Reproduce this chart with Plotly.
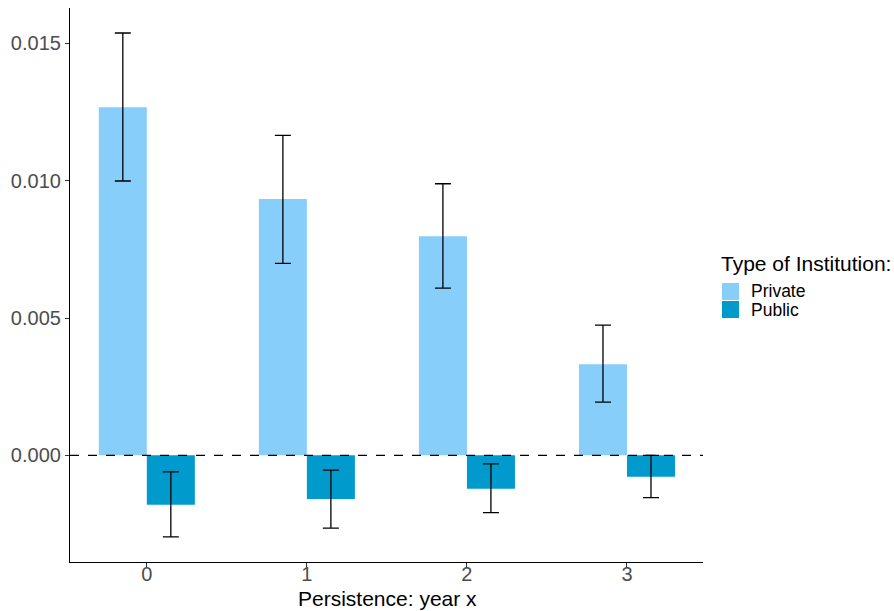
import plotly.graph_objects as go

years = [0, 1, 2, 3]
private_est = [0.01268, 0.00933, 0.00798, 0.00332]
private_lo = [0.00999, 0.00699, 0.00609, 0.00194]
private_hi = [0.01538, 0.01165, 0.00989, 0.00474]
public_est = [-0.00180, -0.00159, -0.00122, -0.00078]
public_lo = [-0.00297, -0.00265, -0.00209, -0.00154]
public_hi = [-0.00060, -0.00054, -0.00031, 0.00000]
series_names = ["Private", "Public"]
series_colors = ["#87CEFA", "#009ACD"]

FONT = "Liberation Sans, Arial, sans-serif"

FIG_W, FIG_H = 894, 611
L, R, T, B = 70, 703, 8, 562
W, H = R - L, B - T

def px_x(p):
    return (p - L) / W

def px_y(p):
    return (B - p) / H

def err(est, lo, hi):
    return dict(type="data", symmetric=False,
                array=[h - e for e, h in zip(est, hi)],
                arrayminus=[e - l for e, l in zip(est, lo)],
                color="black", thickness=1.3, width=8)

fig = go.Figure()
fig.add_trace(go.Bar(x=years, y=private_est, name=series_names[0], marker_color=series_colors[0],
                     marker_line_width=0, showlegend=False,
                     error_y=err(private_est, private_lo, private_hi)))
fig.add_trace(go.Bar(x=years, y=public_est, name=series_names[1], marker_color=series_colors[1],
                     marker_line_width=0, showlegend=False,
                     error_y=err(public_est, public_lo, public_hi)))

fig.add_shape(type="line", xref="paper", yref="y", x0=0, x1=1, y0=0, y1=0,
              line=dict(color="black", width=1.2, dash="dash"), layer="above")

# custom legend
fig.add_annotation(xref="paper", yref="paper", x=px_x(719), y=px_y(263), text="Type of Institution:",
                   showarrow=False, xanchor="left", yanchor="middle",
                   font=dict(size=21, color="black", family=FONT))
key_tops = [283, 301]
for i, (nm, col) in enumerate(zip(series_names, series_colors)):
    t = key_tops[i]
    fig.add_shape(type="rect", xref="paper", yref="paper",
                  x0=px_x(722), x1=px_x(739), y0=px_y(t + 17), y1=px_y(t),
                  fillcolor=col, line_width=0)
    fig.add_annotation(xref="paper", yref="paper", x=px_x(748.5), y=px_y(t + 8.5), text=nm,
                       showarrow=False, xanchor="left", yanchor="middle",
                       font=dict(size=17.5, color="black", family=FONT))

# x axis title
fig.add_annotation(xref="paper", yref="paper", x=px_x(387), y=px_y(598),
                   text="Persistence: year x", showarrow=False,
                   xanchor="center", yanchor="middle",
                   font=dict(size=21, color="black", family=FONT))

fig.update_layout(
    width=FIG_W, height=FIG_H,
    margin=dict(l=L, r=FIG_W - R, t=T, b=FIG_H - B, autoexpand=False),
    plot_bgcolor="white", paper_bgcolor="white",
    barmode="group", bargap=0.4, bargroupgap=0,
    font=dict(family=FONT),
    showlegend=False,
    xaxis=dict(range=[-0.48, 3.475], tickvals=years, ticktext=[str(v) for v in years],
               showline=True, linecolor="black", linewidth=1.2, mirror=False,
               ticks="outside", ticklen=4, tickcolor="#333333", automargin=False,
               ticklabelstandoff=-10,
               tickfont=dict(size=20, color="#4D4D4D"), showgrid=False, zeroline=False),
    yaxis=dict(range=[-0.003885, 0.01629], tickvals=[0, 0.005, 0.010, 0.015],
               ticktext=["0.000", "0.005", "0.010", "0.015"], automargin=False,
               showline=True, linecolor="black", linewidth=1.2,
               ticks="outside", ticklen=4, tickcolor="#333333",
               tickfont=dict(size=20, color="#4D4D4D"), showgrid=False, zeroline=False),
)

fig.write_html("out.html", config={"displayModeBar": False},
               post_script="document.body.style.margin='0';")
